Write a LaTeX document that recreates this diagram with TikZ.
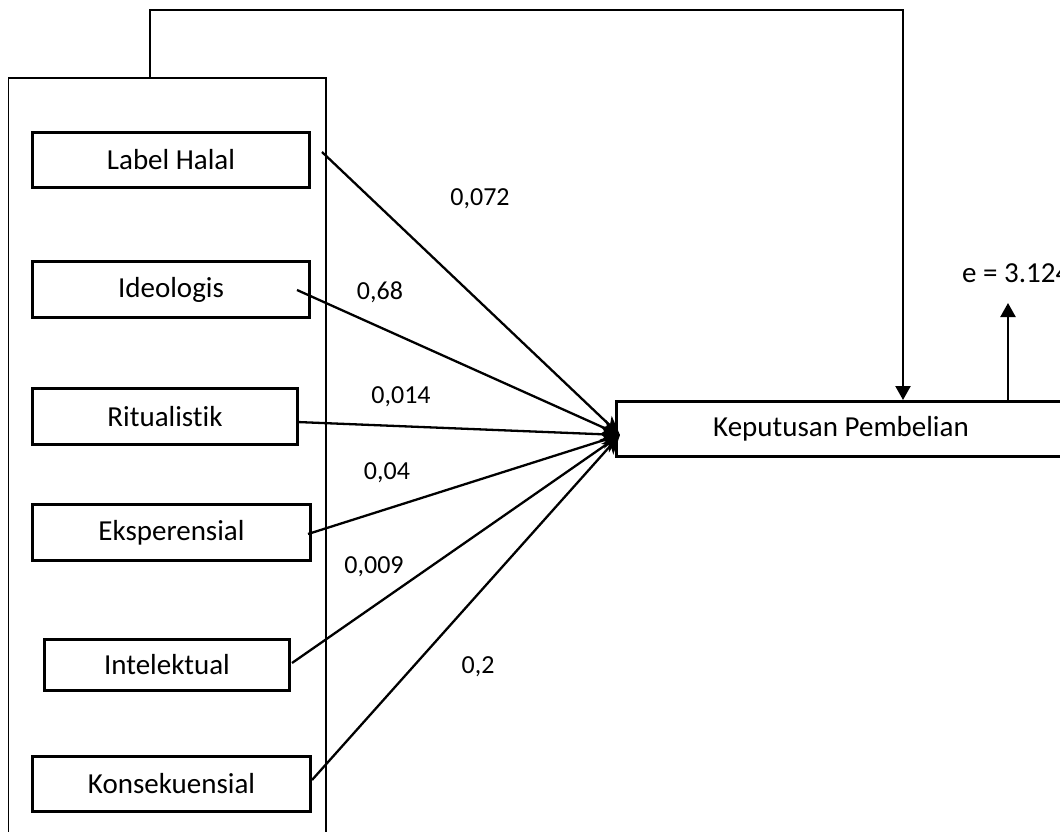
\documentclass[tikz,border=0pt]{standalone}
\usepackage{fontspec}
\setmainfont{Carlito}[Ligatures={NoCommon}]
\usetikzlibrary{arrows.meta,calc}
\begin{document}
\begin{tikzpicture}[x=1pt,y=-1pt,
  box/.style={draw,line width=2.6pt,inner sep=0pt,font=\fontsize{29}{34}\selectfont},
  conn/.style={line width=2.3pt,-{Stealth[length=19pt,width=16pt,inset=5pt]}},
  vline/.style={line width=2.2pt,-{Triangle[length=14pt,width=15pt]}},
  num/.style={font=\fontsize{26}{30}\selectfont,inner sep=0pt,anchor=base},
  frame/.style={line width=1.3pt}]
\useasboundingbox (0,0) rectangle (1060,832);
% outer open frame
\draw[frame] (8.5,840) -- (8.5,78) -- (326,78) -- (326,840);
\coordinate (fb) at (150,78);
% boxes
\node[box,minimum width=277.4pt,minimum height=55.4pt] (lh) at (171,160) {Label Halal};
\node[box,minimum width=277.4pt,minimum height=56.4pt] (ideo) at (171,289.5) {Ideologis};
\node[box,minimum width=265.4pt,minimum height=56.4pt] (rit) at (165,416.5) {Ritualistik};
\node[box,minimum width=278.4pt,minimum height=56.4pt] (eks) at (171.5,532.5) {Eksperensial};
\node[box,minimum width=245.4pt,minimum height=51.4pt] (int) at (167,665) {Intelektual};
\node[box,minimum width=278.4pt,minimum height=55.4pt] (kon) at (171.5,784) {Konsekuensial};
\node[box,minimum width=449.4pt,minimum height=55.4pt] (kp) at (841,429) {Keputusan Pembelian};
\coordinate (tgt) at ($(kp.west)+(5,6)$);
% connectors
\draw[conn] ($(lh.east)+(11,-8)$) -- (tgt);
\draw[conn] ($(ideo.east)+(-14,0.5)$) -- (tgt);
\draw[conn] ($(rit.east)+(-2,5.5)$) -- (tgt);
\draw[conn] ($(eks.east)+(-4,1.5)$) -- (tgt);
\draw[conn] ($(int.east)+(1,-2)$) -- (tgt);
\draw[conn] ($(kon.east)+(0,-4)$) -- (tgt);
% feedback line
\coordinate (kpin) at ($(kp.north west)+(288,0)$);
\draw[vline] (fb) -- (150,10) -| (kpin);
% error term
\node[font=\fontsize{29}{34}\selectfont,inner sep=0pt,anchor=base west] (err) at (962,282) {e = 3.124};
\coordinate (kpout) at ($(kp.north west)+(393,0)$);
\draw[vline] (kpout) -- ($(kpout)+(0,-97)$);
% coefficients
\node[num] (c1) at (480,205) {0,072};
\node[num] (c2) at (380,299) {0,68};
\node[num] (c3) at (401,403) {0,014};
\node[num] (c4) at (387,479) {0,04};
\node[num] (c5) at (374,573) {0,009};
\node[num] (c6) at (478,673) {0,2};
\end{tikzpicture}
\end{document}
